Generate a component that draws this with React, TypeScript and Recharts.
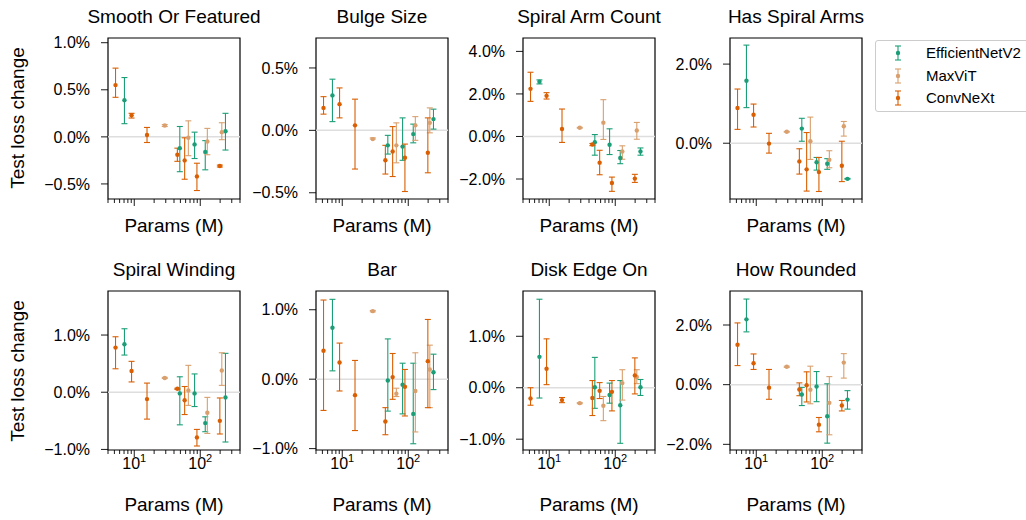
import { ScatterChart, Scatter, XAxis, YAxis, ErrorBar, ReferenceLine, ReferenceArea } from 'recharts';

const FONT = '"Liberation Sans", Arial, sans-serif';
const GREEN = '#1b9e77';
const TAN = '#d9a06e';
const ORANGE = '#d95f02';

// parameter counts (millions) per model family
const effParams = [7.1, 49, 82, 119, 241];
const maxvitParams = [29, 66, 128, 212];
const convnextParams = [5.2, 9.1, 15.6, 45, 58, 89, 198];

// [test loss change %, lower bound %, upper bound %]
type Row = [number, number, number];

const smoothEff: Row[] = [[0.39, 0.14, 0.63], [-0.12, -0.37, 0.11], [-0.08, -0.23, 0.05], [-0.16, -0.35, -0.04], [0.06, -0.14, 0.25]];
const smoothMax: Row[] = [[0.12, 0.11, 0.13], [-0.01, -0.2, 0.17], [-0.05, -0.19, 0.09], [0.05, -0.03, 0.15]];
const smoothConv: Row[] = [[0.55, 0.42, 0.73], [0.23, 0.2, 0.25], [0.02, -0.06, 0.1], [-0.19, -0.26, -0.12], [-0.25, -0.45, -0.01], [-0.42, -0.57, -0.28], [-0.31, -0.32, -0.3]];

const bulgeEff: Row[] = [[0.28, 0.07, 0.41], [-0.12, -0.19, -0.04], [-0.13, -0.24, 0.1], [-0.03, -0.1, 0.05], [0.09, 0.01, 0.17]];
const bulgeMax: Row[] = [[-0.07, -0.07, -0.06], [-0.12, -0.26, 0.06], [0.04, -0.08, 0.11], [0.06, -0.02, 0.18]];
const bulgeConv: Row[] = [[0.18, 0.13, 0.27], [0.21, 0.1, 0.34], [0.04, -0.31, 0.25], [-0.24, -0.35, -0.12], [-0.17, -0.37, 0.03], [-0.22, -0.49, -0.11], [-0.18, -0.34, 0.1]];

const armCountEff: Row[] = [[2.57, 2.47, 2.66], [-0.27, -0.88, 0.09], [-0.39, -0.85, 0.36], [-1.01, -1.28, -0.66], [-0.71, -0.88, -0.54]];
const armCountMax: Row[] = [[0.41, 0.39, 0.43], [0.65, -0.14, 1.73], [-0.71, -1.07, -0.44], [0.28, -0.13, 0.66]];
const armCountConv: Row[] = [[2.24, 1.65, 3.02], [1.91, 1.76, 2.06], [0.35, -0.28, 1.29], [-0.38, -0.43, -0.33], [-1.23, -1.8, -0.65], [-2.19, -2.58, -1.91], [-1.98, -2.16, -1.78]];

const hasArmsEff: Row[] = [[1.58, 0.9, 2.48], [0.37, 0.05, 0.63], [-0.48, -0.68, -0.36], [-0.52, -0.66, -0.39], [-0.9, -0.91, -0.89]];
const hasArmsMax: Row[] = [[0.29, 0.28, 0.3], [0.05, -0.41, 0.66], [-0.42, -0.62, -0.19], [0.43, 0.18, 0.55]];
const hasArmsConv: Row[] = [[0.89, 0.35, 1.37], [0.72, 0.41, 0.99], [-0.01, -0.25, 0.25], [-0.46, -0.78, -0.14], [-0.66, -1.21, 0.27], [-0.73, -1.22, -0.36], [-0.57, -0.97, 0.05]];

const windingEff: Row[] = [[0.84, 0.65, 1.11], [-0.02, -0.57, 0.27], [-0.02, -0.25, 0.32], [-0.54, -0.69, -0.43], [-0.09, -0.87, 0.68]];
const windingMax: Row[] = [[0.25, 0.24, 0.26], [0.03, -0.23, 0.47], [-0.36, -0.72, -0.09], [0.38, 0.12, 0.69]];
const windingConv: Row[] = [[0.78, 0.41, 0.97], [0.37, 0.18, 0.54], [-0.12, -0.47, 0.16], [0.06, 0.05, 0.07], [-0.14, -0.39, 0.1], [-0.79, -0.94, -0.65], [-0.5, -0.73, -0.1]];

const barEff: Row[] = [[0.74, 0.12, 1.15], [-0.02, -0.46, 0.58], [-0.08, -0.5, 0.23], [-0.5, -0.93, 0.23], [0.1, -0.15, 0.36]];
const barMax: Row[] = [[0.98, 0.97, 0.99], [-0.21, -0.25, -0.13], [-0.17, -0.76, 0.38], [0.14, -0.41, 0.49]];
const barConv: Row[] = [[0.41, -0.45, 1.14], [0.24, -0.17, 0.52], [-0.23, -0.74, 0.27], [-0.61, -0.8, -0.41], [0.03, -0.29, 0.37], [-0.11, -0.53, 0.14], [0.26, -0.41, 0.86]];

const edgeOnEff: Row[] = [[0.6, -0.2, 1.72], [0.01, -0.4, 0.59], [-0.14, -0.3, 0.09], [-0.34, -1.08, 0.14], [0.01, -0.15, 0.16]];
const edgeOnMax: Row[] = [[-0.3, -0.31, -0.29], [-0.35, -0.64, -0.17], [0.09, -0.24, 0.35], [0.21, 0.08, 0.35]];
const edgeOnConv: Row[] = [[-0.21, -0.34, 0], [0.37, 0.06, 0.95], [-0.24, -0.29, -0.19], [-0.2, -0.54, 0.14], [-0.06, -0.21, 0.1], [-0.08, -0.45, 0.14], [0.24, -0.12, 0.58]];

const roundedEff: Row[] = [[2.19, 1.77, 2.87], [-0.33, -0.7, -0.09], [-0.06, -0.57, 0.44], [-1.06, -1.96, 0.03], [-0.5, -0.82, -0.2]];
const roundedMax: Row[] = [[0.6, 0.58, 0.62], [-0.17, -0.64, 0.62], [-0.61, -1.68, 0.27], [0.74, 0.22, 1.04]];
const roundedConv: Row[] = [[1.34, 0.64, 2.07], [0.72, 0.51, 1.03], [-0.1, -0.49, 0.51], [-0.16, -0.37, 0.06], [-0.02, -0.58, 0.43], [-1.34, -1.58, -1.1], [-0.7, -0.88, -0.53]];

const xTicks = [4, 5, 6, 7, 8, 9, 10, 20, 30, 40, 50, 60, 70, 80, 90, 100, 200, 300, 400];

interface PanelCfg {
  title: string;
  eff: Row[];
  max: Row[];
  conv: Row[];
  yDomain: [number, number];
  yTicks: number[];
}

const panels: PanelCfg[] = [
  { title: 'Smooth Or Featured', eff: smoothEff, max: smoothMax, conv: smoothConv, yDomain: [-0.66, 1.05], yTicks: [-0.5, 0, 0.5, 1] },
  { title: 'Bulge Size', eff: bulgeEff, max: bulgeMax, conv: bulgeConv, yDomain: [-0.55, 0.74], yTicks: [-0.5, 0, 0.5] },
  { title: 'Spiral Arm Count', eff: armCountEff, max: armCountMax, conv: armCountConv, yDomain: [-2.94, 4.63], yTicks: [-2, 0, 2, 4] },
  { title: 'Has Spiral Arms', eff: hasArmsEff, max: hasArmsMax, conv: hasArmsConv, yDomain: [-1.41, 2.66], yTicks: [0, 2] },
  { title: 'Spiral Winding', eff: windingEff, max: windingMax, conv: windingConv, yDomain: [-1.01, 1.77], yTicks: [-1, 0, 1] },
  { title: 'Bar', eff: barEff, max: barMax, conv: barConv, yDomain: [-1.02, 1.27], yTicks: [-1, 0, 1] },
  { title: 'Disk Edge On', eff: edgeOnEff, max: edgeOnMax, conv: edgeOnConv, yDomain: [-1.21, 1.88], yTicks: [-1, 0, 1] },
  { title: 'How Rounded', eff: roundedEff, max: roundedMax, conv: roundedConv, yDomain: [-2.19, 3.14], yTicks: [-2, 0, 2] },
];

// ErrorBar takes [below, above] offsets from the point
const toPoints = (xs: number[], rows: Row[]) =>
  rows.map(([y, lo, hi], i) => ({ x: xs[i], y, err: [Math.max(0, y - lo), Math.max(0, hi - y)] }));

const fmtPct = (v: number) => `${v < 0 ? '\u2212' : ''}${Math.abs(v).toFixed(1)}%`;

// layout of the 2x4 grid (plot area boxes)
const COL_LEFT = [108, 316, 523, 730];
const ROW_TOP = [38, 291];
const ROW_H = [161, 159];
const PW = 132;
const ML = 95;
const MT = 12;
const MB = 40;

function LogTick(props: any) {
  const { x, y, payload, showLabel } = props;
  const v = payload.value;
  const major = v === 10 || v === 100;
  return (
    <g>
      <line x1={x} x2={x} y1={y} y2={y + (major ? 7 : 4)} stroke="#000" strokeWidth={0.9} />
      {showLabel && major && (
        <text x={x} y={y + 19} textAnchor="middle" fontSize={16} fontFamily={FONT} fill="#000">
          10
          <tspan dy={-7} fontSize={11}>
            {v === 10 ? '1' : '2'}
          </tspan>
        </text>
      )}
    </g>
  );
}

function Dot(color: string) {
  return (p: any) => <circle cx={p.cx} cy={p.cy} r={2.2} fill={color} />;
}

function Panel({ cfg, row, col }: { cfg: PanelCfg; row: number; col: number }) {
  const h = ROW_H[row];
  const [lo, hi] = cfg.yDomain;
  const series = [
    { name: 'EfficientNetV2', color: GREEN, data: toPoints(effParams, cfg.eff) },
    { name: 'MaxViT', color: TAN, data: toPoints(maxvitParams, cfg.max) },
    { name: 'ConvNeXt', color: ORANGE, data: toPoints(convnextParams, cfg.conv) },
  ];
  return (
    <div style={{ position: 'absolute', left: COL_LEFT[col] - ML, top: ROW_TOP[row] - MT }}>
      <ScatterChart width={ML + PW + 6} height={MT + h + MB} margin={{ top: MT, right: 6, bottom: 0, left: 0 }}>
        <XAxis
          type="number"
          dataKey="x"
          scale="log"
          domain={[4, 400]}
          allowDataOverflow
          ticks={xTicks}
          interval={0}
          tickSize={0}
          tickMargin={0}
          axisLine={false}
          tickLine={false}
          height={MB}
          tick={(p: any) => <LogTick {...p} showLabel={row === 1} />}
        />
        <YAxis
          type="number"
          dataKey="y"
          domain={cfg.yDomain}
          allowDataOverflow
          ticks={cfg.yTicks}
          interval={0}
          width={ML}
          tickSize={7}
          tickMargin={11}
          axisLine={false}
          tickLine={{ stroke: '#000', strokeWidth: 0.9 }}
          tickFormatter={fmtPct}
          tick={{ fill: '#000', fontSize: 16, fontFamily: FONT }}
        />
        <ReferenceLine y={0} stroke="#dedede" strokeWidth={1.5} />
        {series.map(s => (
          <Scatter key={s.name} name={s.name} data={s.data} isAnimationActive={false} shape={Dot(s.color)}>
            <ErrorBar dataKey="err" direction="y" width={3} stroke={s.color} strokeWidth={1.1} />
          </Scatter>
        ))}
        <ReferenceArea x1={4} x2={400} y1={lo} y2={hi} fill="none" stroke="#000" strokeWidth={1.2} ifOverflow="visible" />
      </ScatterChart>
    </div>
  );
}

const textStyle = { position: 'absolute' as const, fontFamily: FONT, color: '#000', whiteSpace: 'nowrap' as const, transform: 'translate(-50%, -50%)' };

function LegendMarker({ color }: { color: string }) {
  return (
    <svg width={10} height={16} style={{ position: 'absolute', left: -5, top: -8 }}>
      <line x1={5} x2={5} y1={1} y2={15} stroke={color} strokeWidth={1.1} />
      <line x1={2} x2={8} y1={1} y2={1} stroke={color} strokeWidth={1.1} />
      <line x1={2} x2={8} y1={15} y2={15} stroke={color} strokeWidth={1.1} />
      <circle cx={5} cy={8} r={2.2} fill={color} />
    </svg>
  );
}

const legendItems = [
  { name: 'EfficientNetV2', color: GREEN },
  { name: 'MaxViT', color: TAN },
  { name: 'ConvNeXt', color: ORANGE },
];

export default function App() {
  return (
    <div style={{ position: 'absolute', left: 0, top: 0, width: 1026, height: 520, background: '#fff', overflow: 'hidden' }}>
      {panels.map((cfg, i) => {
        const row = Math.floor(i / 4);
        const col = i % 4;
        const cx = COL_LEFT[col] + PW / 2;
        return (
          <div key={cfg.title}>
            <Panel cfg={cfg} row={row} col={col} />
            <div style={{ ...textStyle, left: cx, top: row === 0 ? 17 : 270, fontSize: 19 }}>{cfg.title}</div>
            <div style={{ ...textStyle, left: cx, top: row === 0 ? 226 : 505, fontSize: 19 }}>Params (M)</div>
          </div>
        );
      })}
      {[118, 371].map(cy => (
        <div key={cy} style={{ ...textStyle, left: 18, top: cy, fontSize: 19, transform: 'translate(-50%, -50%) rotate(-90deg)' }}>
          Test loss change
        </div>
      ))}
      <div
        style={{
          position: 'absolute',
          left: 875,
          top: 40,
          width: 170,
          height: 70,
          border: '1px solid #cccccc',
          borderRadius: 3,
          background: '#fff',
        }}
      >
        {legendItems.map((it, i) => (
          <div key={it.name} style={{ position: 'absolute', left: 22, top: 12 + i * 22.5 }}>
            <LegendMarker color={it.color} />
            <span style={{ position: 'absolute', left: 28, top: -9, fontSize: 15, fontFamily: FONT, whiteSpace: 'nowrap', lineHeight: '18px' }}>
              {it.name}
            </span>
          </div>
        ))}
      </div>
    </div>
  );
}
